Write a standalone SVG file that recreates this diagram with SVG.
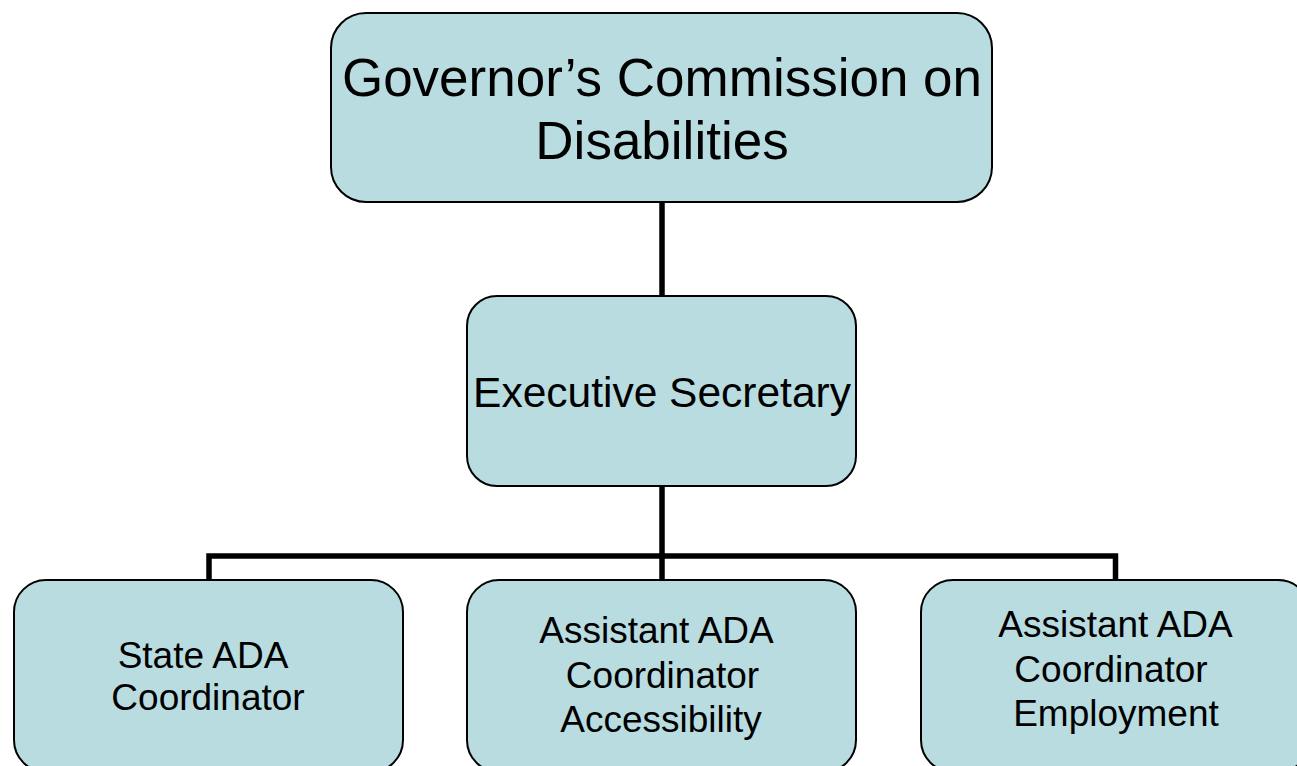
<svg xmlns="http://www.w3.org/2000/svg" width="1297" height="766" viewBox="0 0 1297 766">
<style>
.box{fill:#B8DCE0;stroke:#000;stroke-width:2}
.lbl{font-family:"Liberation Sans",Arial,sans-serif;fill:#000;text-anchor:middle}
.con{fill:none;stroke:#000;stroke-width:5.5;stroke-linejoin:miter;stroke-linecap:butt}
.sm{font-size:37px}
</style>
<rect width="1297" height="766" fill="#fff"/>
<g id="connectors">
<line class="con" x1="662" y1="202" x2="662" y2="296"/>
<line class="con" x1="662" y1="486" x2="662" y2="580"/>
<polyline class="con" points="209,580 209,556 1115.5,556 1115.5,580"/>
</g>
<g id="node-governor">
<rect class="box" x="331" y="13" width="661" height="189" rx="35" ry="35"/>
<text class="lbl" font-size="53" x="662" y="96">Governor’s Commission on</text>
<text class="lbl" font-size="53" x="662" y="159">Disabilities</text>
</g>
<g id="node-executive">
<rect class="box" x="467" y="296" width="389" height="190" rx="30" ry="30"/>
<text class="lbl" font-size="42.5" x="662" y="407">Executive Secretary</text>
</g>
<g id="node-state-ada">
<rect class="box" x="14" y="580" width="389" height="192" rx="32" ry="32"/>
<text class="lbl sm" x="203" y="668">State ADA</text>
<text class="lbl sm" x="208" y="710">Coordinator</text>
</g>
<g id="node-assistant-accessibility">
<rect class="box" x="467" y="580" width="389" height="192" rx="32" ry="32"/>
<text class="lbl sm" x="656.5" y="643">Assistant ADA</text>
<text class="lbl sm" x="662.5" y="688">Coordinator</text>
<text class="lbl sm" x="661" y="732">Accessibility</text>
</g>
<g id="node-assistant-employment">
<rect class="box" x="921" y="580" width="389" height="192" rx="32" ry="32"/>
<text class="lbl sm" x="1115.5" y="637">Assistant ADA</text>
<text class="lbl sm" x="1111" y="682">Coordinator</text>
<text class="lbl sm" x="1116" y="726">Employment</text>
</g>
</svg>
